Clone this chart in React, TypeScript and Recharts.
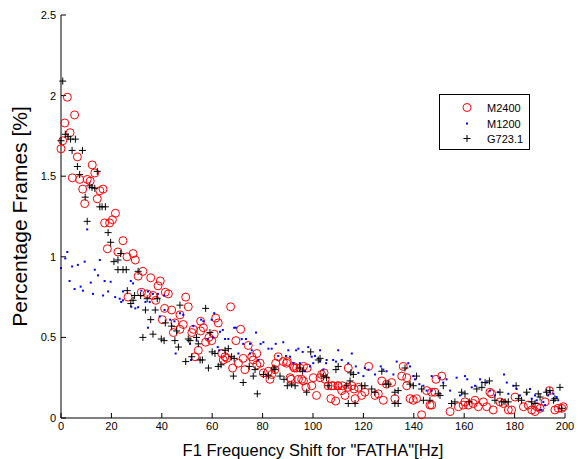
import React from 'react';
import { ScatterChart, Scatter, XAxis, YAxis, Legend } from 'recharts';

const xTicks = [0, 20, 40, 60, 80, 100, 120, 140, 160, 180, 200];
const yTicks = [0, 0.5, 1, 1.5, 2, 2.5];
const xLabel = 'F1 Frequency Shift for "FATHA"[Hz]';
const yLabel = 'Percentage Frames [%]';
const seriesNames = ['M2400', 'M1200', 'G723.1'];

const m2400: [number, number][] = [
  [0,1.67],[0.7,1.72],[1.5,1.83],[2.5,1.99],[3.6,1.77],[4.5,1.49],[5.4,1.88],[6.5,1.62],[7.4,1.48],[8.6,1.42],
  [9.4,1.33],[10.4,1.48],[11.6,1.47],[12.4,1.57],[13.4,1.52],[14.4,1.36],[15.4,1.41],[16.7,1.42],[17.3,1.21],[18.4,1.05],
  [19.3,1.21],[20.4,1.23],[21.6,1.27],[22.6,1.03],[24.6,1.1],[26.2,1.0],[26.6,0.75],[28.6,1.02],[29.5,0.98],[30.6,0.88],
  [31.9,0.78],[32.5,0.91],[34.2,0.77],[35.6,0.87],[36.5,0.76],[37.6,0.73],[38.5,0.82],[39.4,0.85],[40.2,0.61],[41.1,0.68],
  [41.4,0.78],[42.6,0.77],[43.9,0.67],[44.6,0.53],[45.2,0.59],[47.2,0.64],[47.2,0.55],[48.5,0.58],[49.5,0.75],[50.5,0.69],
  [51.9,0.53],[52.5,0.55],[53.2,0.38],[54.5,0.42],[55.4,0.6],[55.4,0.54],[56.5,0.56],[57.4,0.47],[58.7,0.5],[59.8,0.48],
  [60.8,0.52],[61.4,0.62],[62.4,0.59],[63.8,0.4],[64.4,0.36],[65.1,0.38],[65.8,0.37],[67.3,0.69],[68.1,0.31],[69.4,0.48],
  [70.4,0.34],[71.3,0.55],[72.3,0.37],[73,0.3],[74.3,0.45],[75.7,0.38],[76.3,0.36],[77.7,0.4],[77.7,0.33],[79,0.34],
  [80.3,0.28],[82.3,0.29],[82.9,0.24],[83.6,0.27],[84.9,0.3],[85.2,0.34],[86.2,0.38],[88.2,0.35],[89.5,0.34],[89.8,0.35],
  [90.9,0.25],[91.3,0.24],[92.2,0.32],[92.6,0.31],[93.5,0.31],[94.2,0.24],[94.8,0.31],[95.5,0.24],[96.2,0.32],[96.2,0.23],
  [97.2,0.19],[97.7,0.31],[99.5,0.2],[100.1,0.25],[101.4,0.14],[102.8,0.25],[103.4,0.27],[104.4,0.28],[104.8,0.24],[106,0.2],
  [107.1,0.12],[107.4,0.2],[108,0.2],[109,0.105],[109.8,0.2],[110,0.2],[111.4,0.17],[111.6,0.2],[112.7,0.14],[113.8,0.19],
  [114,0.31],[115.4,0.2],[116.3,0.18],[116.7,0.12],[118,0.19],[119.3,0.14],[120.6,0.16],[122.1,0.32],[124.6,0.14],[125.9,0.15],
  [127.3,0.23],[127.9,0.11],[129.2,0.21],[131.2,0.22],[132.5,0.12],[135.2,0.26],[135.8,0.32],[137.2,0.25],[137.2,0.2],[138.5,0.12],
  [139.8,0.11],[141.1,0.12],[143.1,0.02],[145.1,0.17],[146.4,0.08],[147.1,0.16],[147.1,0.08],[148.4,0.16],[148.8,0.24],[151.1,0.26],
  [154.4,0.04],[157.7,0.07],[159.6,0.08],[160.3,0.1],[161.6,0.08],[163.6,0.09],[164.3,0.11],[165.6,0.07],[167.6,0.1],[168.9,0.07],
  [170.2,0.16],[170.9,0.15],[171.5,0.05],[174.2,0.1],[175.5,0.09],[177.5,0.05],[178.8,0.05],[180.2,0.13],[183.5,0.07],[185.4,0.08],
  [186.8,0.05],[188.1,0.04],[188.8,0.07],[190.1,0.06],[192.1,0.1],[193.8,0.17],[196,0.05],[197.3,0.06],[198.7,0.06],[199.3,0.07],
];

const m1200: [number, number][] = [
  [0,0.93],[1.7,0.99],[2.5,1.03],[3.4,0.85],[4.4,0.94],[5.4,0.8],[6.7,0.95],[7.8,0.815],[8.7,0.79],[9.4,0.97],
  [10.4,1.17],[11.8,0.84],[12.7,0.77],[13.4,0.92],[14.7,0.885],[15.4,0.98],[16.7,0.76],[17.3,0.85],[18.7,0.785],[19.7,0.845],
  [21.5,0.75],[23.3,0.74],[23.9,0.72],[24.6,0.785],[24.6,0.73],[27.7,0.85],[27.9,0.69],[28.6,0.835],[29.5,0.68],[30.6,0.687],
  [31.9,0.79],[33.5,0.72],[34.5,0.785],[34.5,0.56],[35.2,0.72],[36.5,0.77],[38.5,0.77],[39.2,0.63],[40.9,0.76],[41.1,0.67],
  [43.3,0.61],[45,0.6],[45.5,0.4],[47.2,0.65],[48.5,0.64],[51.2,0.46],[51.6,0.36],[52.5,0.57],[53.8,0.48],[55.6,0.61],
  [56.5,0.6],[58.2,0.49],[59.8,0.61],[60.4,0.5],[60.8,0.65],[62.2,0.44],[62.8,0.42],[63.1,0.535],[64.2,0.546],[65.1,0.49],
  [66.4,0.49],[68.7,0.56],[69.4,0.56],[70.4,0.4],[71.7,0.49],[72.3,0.46],[73.4,0.49],[75,0.4],[75,0.46],[75.7,0.42],
  [77.4,0.53],[78.3,0.36],[79.2,0.46],[80.3,0.47],[82.3,0.43],[83.6,0.43],[85.2,0.46],[86.2,0.385],[88.2,0.47],[89.3,0.385],
  [90.2,0.42],[90.9,0.38],[92.2,0.34],[93.3,0.42],[94.2,0.43],[94.8,0.34],[95.9,0.41],[96.8,0.29],[98.1,0.44],[98.8,0.32],
  [99.5,0.38],[100.1,0.34],[100.8,0.385],[102.8,0.42],[102.8,0.35],[104.1,0.3],[105.2,0.34],[105.4,0.36],[108,0.36],[109.1,0.35],
  [110,0.42],[111.4,0.36],[114,0.34],[115.4,0.4],[117,0.32],[118,0.28],[120,0.26],[120.6,0.31],[122,0.3],[124.6,0.27],
  [126.9,0.32],[127.9,0.3],[129.2,0.29],[131.9,0.27],[133.2,0.35],[137.8,0.34],[138.5,0.32],[139.8,0.26],[140.5,0.24],[142.2,0.21],
  [143.8,0.2],[145.1,0.17],[147.1,0.17],[147.1,0.26],[150.4,0.25],[151.7,0.22],[153,0.24],[154.4,0.17],[157,0.25],[158.3,0.14],
  [160.3,0.26],[161.2,0.24],[163,0.19],[164.3,0.2],[166.3,0.24],[167,0.22],[168.9,0.22],[170.2,0.17],[172.2,0.14],[173.5,0.16],
  [175.8,0.27],[176.9,0.22],[177.5,0.15],[179.5,0.2],[180.8,0.18],[182.1,0.14],[184.8,0.15],[186.1,0.18],[186.8,0.12],[188.1,0.14],
  [188.8,0.11],[190.1,0.05],[190.7,0.05],[191.4,0.1],[192.1,0.08],[193.3,0.14],[194,0.16],[195.4,0.15],[196.7,0.13],[197.3,0.11],
];

const g7231: [number, number][] = [
  [0,1.72],[0.7,2.09],[1.7,1.76],[2.8,1.745],[3.8,1.73],[4.4,1.66],[5.7,1.73],[6.5,1.56],[7.4,1.51],[8.5,1.66],
  [9.6,1.37],[10.4,1.22],[11.4,1.44],[12.3,1.43],[13.4,1.425],[14.4,1.53],[15.4,1.31],[16.3,1.31],[17.6,1.31],[18.7,1.15],
  [19.7,1.09],[21,0.97],[22.6,0.98],[22.6,0.92],[23.7,1.02],[24.6,0.92],[25.9,0.92],[26.3,0.79],[27.7,0.71],[28.6,0.73],
  [29.2,0.76],[30.6,0.91],[31.6,0.76],[32.5,0.5],[33.5,0.67],[34.2,0.74],[35.6,0.61],[36.5,0.52],[37.4,0.67],[38.2,0.74],
  [39.8,0.49],[40.9,0.48],[41.4,0.59],[43.9,0.57],[45.2,0.48],[45.9,0.54],[46.6,0.44],[47.2,0.7],[49.5,0.35],[50.5,0.49],
  [51.2,0.48],[51.9,0.38],[53.8,0.5],[54.5,0.46],[55.2,0.36],[56.1,0.36],[57.4,0.68],[58.5,0.31],[59.1,0.53],[60,0.41],
  [61.1,0.4],[62.4,0.32],[63.5,0.33],[65.1,0.42],[66.4,0.43],[67.7,0.38],[68.4,0.26],[68.7,0.37],[72.3,0.22],[74.7,0.32],
  [76.3,0.26],[77,0.3],[77.9,0.15],[80.3,0.27],[82.3,0.26],[84.5,0.31],[84.9,0.3],[86.9,0.26],[88.5,0.24],[89.8,0.2],
  [91.5,0.21],[92.9,0.2],[94.8,0.31],[95.9,0.29],[97.5,0.16],[99.1,0.41],[102.1,0.36],[102.8,0.37],[104.1,0.26],[105.4,0.25],
  [106,0.2],[109.1,0.3],[110,0.32],[113.4,0.2],[114,0.09],[114.7,0.23],[115,0.28],[116,0.27],[116.7,0.09],[119.3,0.2],
  [120.6,0.2],[123.3,0.18],[124.6,0.16],[127.3,0.29],[129,0.21],[129.9,0.21],[132.5,0.16],[132.5,0.09],[133.8,0.17],[133.8,0.09],
  [136.5,0.31],[138.5,0.21],[139.8,0.2],[141.1,0.26],[143.1,0.18],[143.8,0.11],[146.4,0.11],[149.7,0.15],[150.4,0.14],[151.7,0.2],
  [155,0.09],[156.3,0.1],[159,0.16],[160.3,0.15],[162,0.1],[165,0.18],[167,0.19],[168.3,0.22],[170,0.23],[172.2,0.11],
  [174.2,0.16],[174.9,0.1],[176.2,0.1],[177.5,0.1],[180.6,0.2],[181.5,0.12],[182.8,0.11],[184.8,0.16],[186.8,0.1],[188.1,0.09],
  [189.4,0.15],[190.1,0.13],[192.7,0.16],[194,0.17],[195.4,0.11],[196,0.12],[198,0.19],[198.7,0.06],
];

const FONT = '"Liberation Sans", Arial, Helvetica, sans-serif';
const toObj = (arr: [number, number][]) => arr.map(([x, y]) => ({ x, y }));

const CircleShape = (p: any) => (
  <circle cx={p.cx} cy={p.cy} r={4} fill="none" stroke="#ff0000" strokeWidth={1} />
);
const DotShape = (p: any) => (
  <rect x={p.cx - 1} y={p.cy - 1} width={2} height={2} fill="#0000ff" />
);
const PlusShape = (p: any) => (
  <path d={`M${p.cx - 3.5},${p.cy}H${p.cx + 3.5}M${p.cx},${p.cy - 3.5}V${p.cy + 3.5}`} stroke="#000" strokeWidth={1} fill="none" />
);

const LegendBox = () => (
  <div style={{ width: 89, height: 54, border: '1px solid #000', background: '#fff', fontFamily: FONT, fontSize: 11, position: 'relative' }}>
    <svg width={89} height={54} style={{ position: 'absolute', left: 0, top: 0 }}>
      <circle cx={27} cy={12.5} r={4} fill="none" stroke="#ff0000" />
      <rect x={26} y={27.5} width={2} height={2} fill="#0000ff" />
      <path d="M23.5,43.5H30.5M27,40V47" stroke="#000" fill="none" />
      <text x={47} y={16.5} fontSize={11} fontFamily={FONT}>{seriesNames[0]}</text>
      <text x={47} y={32.5} fontSize={11} fontFamily={FONT}>{seriesNames[1]}</text>
      <text x={47} y={48} fontSize={11} fontFamily={FONT}>{seriesNames[2]}</text>
    </svg>
  </div>
);

export default function App() {
  const tickStyle = { fill: '#000', fontSize: 11, fontFamily: FONT };
  return (
    <div style={{ position: 'absolute', left: 0, top: 0, width: 578, height: 459, background: '#fff' }}>
      <ScatterChart width={578} height={459} margin={{ top: 15, right: 13, bottom: 0, left: 0 }}>
        <XAxis
          xAxisId="b" type="number" dataKey="x" domain={[0, 200]} ticks={xTicks} interval={0}
          orientation="bottom" height={41} tickSize={-5} tickMargin={9}
          axisLine={{ stroke: '#000' }} tickLine={{ stroke: '#000' }} tick={tickStyle}
          label={{ value: xLabel, position: 'insideBottom', offset: 3, fill: '#000', fontSize: 16.5, fontFamily: FONT }}
        />
        <XAxis
          xAxisId="t" type="number" dataKey="x" domain={[0, 200]} ticks={xTicks} interval={0}
          orientation="top" height={0} tickSize={-5} tickMargin={0}
          axisLine={{ stroke: '#000' }} tickLine={{ stroke: '#000' }} tickFormatter={() => ''}
        />
        <YAxis
          yAxisId="l" type="number" dataKey="y" domain={[0, 2.5]} ticks={yTicks} interval={0}
          orientation="left" width={61} tickSize={-5} tickMargin={10}
          axisLine={{ stroke: '#000' }} tickLine={{ stroke: '#000' }} tick={tickStyle}
          label={{ value: yLabel, angle: -90, position: 'insideLeft', offset: 20, fill: '#000', fontSize: 21, fontFamily: FONT, style: { textAnchor: 'middle' } }}
        />
        <YAxis
          yAxisId="r" type="number" dataKey="y" domain={[0, 2.5]} ticks={yTicks} interval={0}
          orientation="right" width={0} tickSize={-5} tickMargin={0}
          axisLine={{ stroke: '#000' }} tickLine={{ stroke: '#000' }} tickFormatter={() => ''}
        />
        <Legend
          layout="vertical" verticalAlign="middle" align="center"
          content={() => <LegendBox />}
          wrapperStyle={{ position: 'absolute', left: 439, top: 94, width: 91, height: 56 }}
        />
        <Scatter name={seriesNames[0]} xAxisId="b" yAxisId="l" data={toObj(m2400)} shape={CircleShape} isAnimationActive={false} />
        <Scatter name={seriesNames[1]} xAxisId="b" yAxisId="l" data={toObj(m1200)} shape={DotShape} isAnimationActive={false} />
        <Scatter name={seriesNames[2]} xAxisId="b" yAxisId="l" data={toObj(g7231)} shape={PlusShape} isAnimationActive={false} />
      </ScatterChart>
    </div>
  );
}
